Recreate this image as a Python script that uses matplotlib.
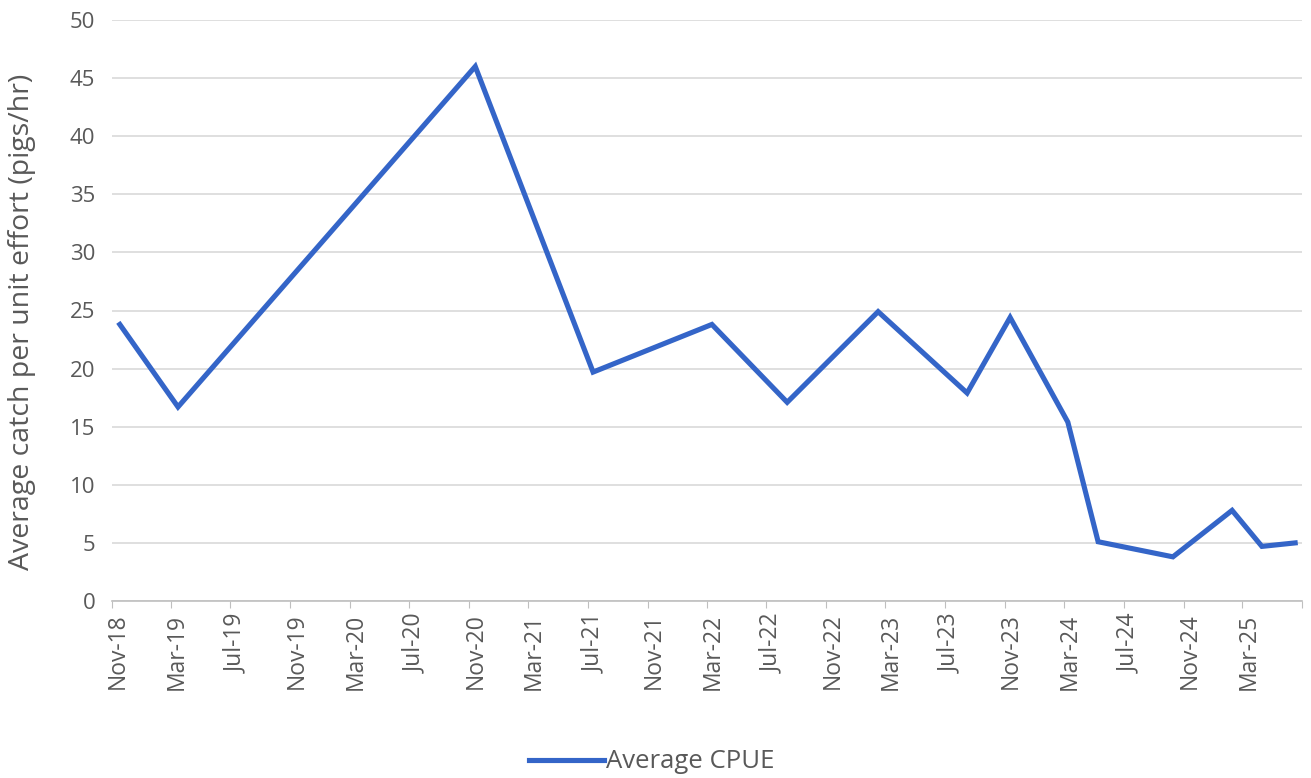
import matplotlib
matplotlib.use("Agg")
import matplotlib.pyplot as plt
import matplotlib.dates as mdates
import matplotlib.transforms as mtransforms
import pandas as pd

dates = ["2018-11-17", "2019-03-16", "2020-11-13", "2021-07-12", "2022-03-12",
         "2022-08-13", "2023-02-15", "2023-08-16", "2023-11-12", "2024-03-09",
         "2024-05-10", "2024-10-10", "2025-02-08", "2025-04-10", "2025-06-17"]
cpue = [23.8, 16.7, 46.0, 19.7, 23.8, 17.1, 24.9, 17.9, 24.4, 15.4,
        5.1, 3.8, 7.8, 4.7, 5.0]
series_label = "Average CPUE"
y_label = "Average catch per unit effort (pigs/hr)"

x = pd.to_datetime(dates)
x_end = pd.Timestamp("2025-07-01")

plt.rcParams['font.family'] = ['Open Sans', 'DejaVu Sans']
fig = plt.figure(figsize=(13.11, 7.78), dpi=100)
ax = fig.add_axes([112/1311, 1-601/778, (1302-112)/1311, (601-20)/778])

ax.plot(x, cpue, color="#3465C8", lw=3.7, solid_joinstyle="miter", label=series_label)

ax.set_xlim(pd.Timestamp("2018-11-01"), x_end)
ax.set_ylim(0, 50)
ax.set_yticks(range(0, 51, 5))
ax.xaxis.set_major_locator(mdates.MonthLocator(bymonth=[3, 7, 11]))
fmt = mdates.DateFormatter("%b-%y")
ax.xaxis.set_major_formatter(
    plt.FuncFormatter(lambda v, p: "" if mdates.num2date(v).replace(tzinfo=None) >= x_end
                      else fmt(v, p)))

ax.grid(axis="y", color="#d9d9d9", lw=1.2)
ax.set_axisbelow(True)
for s in ["top", "right", "left"]:
    ax.spines[s].set_visible(False)
ax.spines["bottom"].set_color("#bfbfbf")
ax.spines["bottom"].set_linewidth(1.2)
ax.tick_params(axis="y", length=0, pad=12, labelsize=16, labelcolor="#595959")
ax.tick_params(axis="x", length=5, color="#bfbfbf", labelsize=16.5, labelcolor="#595959",
               rotation=90, pad=4)
offset = mtransforms.ScaledTranslation(6/100, 0, fig.dpi_scale_trans)
for lbl in ax.get_xticklabels():
    lbl.set_transform(lbl.get_transform() + offset)
ax.set_ylabel(y_label, fontsize=20.5, color="#595959")
ax.yaxis.set_label_coords(-76/1190, 0.48)

leg = fig.legend(loc="center", bbox_to_anchor=(652/1311, 1-762/778), frameon=False,
                 fontsize=18.5, handlelength=2.9, handletextpad=0.1)
for t in leg.get_texts():
    t.set_color("#595959")

fig.savefig("out.png", dpi=100)
